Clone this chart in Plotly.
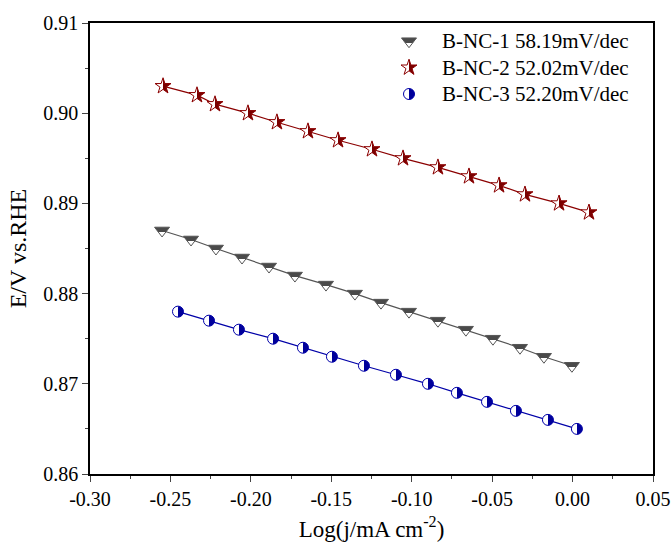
import plotly.graph_objects as go

# B-NC-1 (gray triangles)
x1 = [-0.2552, -0.2372, -0.2217, -0.2055, -0.1887, -0.1726, -0.1533, -0.1353,
      -0.1191, -0.1017, -0.0837, -0.0663, -0.0495, -0.0327, -0.0178, -0.0004]
y1 = [0.887, 0.886, 0.885, 0.884, 0.883, 0.882, 0.881, 0.880,
      0.879, 0.878, 0.877, 0.876, 0.875, 0.874, 0.873, 0.872]

# B-NC-2 (red stars)
x2 = [-0.2546, -0.2335, -0.2223, -0.2018, -0.1838, -0.1645, -0.1458, -0.1247,
      -0.1054, -0.0837, -0.0644, -0.0457, -0.0296, -0.0084, 0.0102]
y2 = [0.903, 0.902, 0.901, 0.900, 0.899, 0.898, 0.897, 0.896,
      0.895, 0.894, 0.893, 0.892, 0.891, 0.890, 0.889]

# B-NC-3 (blue circles)
x3 = [-0.2453, -0.2260, -0.2074, -0.1862, -0.1676, -0.1496, -0.1297,
      -0.1098, -0.0899, -0.0719, -0.0532, -0.0352, -0.0153, 0.0027]
y3 = [0.878, 0.877, 0.876, 0.875, 0.874, 0.873, 0.872,
      0.871, 0.870, 0.869, 0.868, 0.867, 0.866, 0.865]

names = ["B-NC-1 58.19mV/dec", "B-NC-2 52.02mV/dec", "B-NC-3 52.20mV/dec"]

# x tick values and labels (plain hyphen minus as in the original)
x_tickvals = [-0.30, -0.25, -0.20, -0.15, -0.10, -0.05, 0.00, 0.05]
x_ticktext = ["-0.30", "-0.25", "-0.20", "-0.15", "-0.10", "-0.05", "0.00", "0.05"]

FONT = "Liberation Serif, Times New Roman, serif"

series = [
    (x1, y1, names[0], "#555555",
     dict(symbol="triangle-down", size=13, color="#4a4a4a",
          gradient=dict(type="vertical", color="white"),
          line=dict(color="#555555", width=1))),
    (x2, y2, names[1], "#8b0000",
     dict(symbol="star", size=12, color="white",
          gradient=dict(type="horizontal", color="#7a0000"),
          line=dict(color="#8b0000", width=1))),
    (x3, y3, names[2], "#0000a8",
     dict(symbol="circle", size=11, color="white",
          gradient=dict(type="horizontal", color="#00009a"),
          line=dict(color="#0000a8", width=1))),
]

fig = go.Figure()
for xs, ys, nm, col, mk in series:
    fig.add_trace(go.Scatter(x=xs, y=ys, mode="lines", showlegend=False,
                             line=dict(color=col, width=1.2), hoverinfo="skip"))
for xs, ys, nm, col, mk in series:
    fig.add_trace(go.Scatter(x=xs, y=ys, mode="markers",
                             name='<span style="font-size:21px">' + nm + '</span>',
                             marker=mk))

fig.update_layout(
    width=671, height=545,
    margin=dict(l=90, r=18, t=23, b=71),
    paper_bgcolor="white", plot_bgcolor="white",
    font=dict(family=FONT, size=20, color="black"),
    showlegend=True,
    legend=dict(x=0.508, y=1.0, xanchor="left", yanchor="top",
                bgcolor="rgba(0,0,0,0)", borderwidth=0,
                font=dict(family=FONT, size=18, color="black"),
                itemwidth=56, tracegroupgap=0),
)

fig.update_xaxes(
    range=[-0.30, 0.05], tickmode="array", tickvals=x_tickvals, ticktext=x_ticktext,
    ticks="outside", ticklen=6, tickwidth=1.3,
    showline=True, linecolor="black", linewidth=1.5, mirror=True,
    showgrid=False, zeroline=False, automargin=False,
    minor=dict(ticks="outside", tick0=-0.30, dtick=0.025, ticklen=3, tickwidth=1.3, showgrid=False),
    tickfont=dict(family=FONT, size=20),
    title=dict(text="Log(j/mA cm<sup>-2</sup>)", font=dict(family=FONT, size=23), standoff=12),
)
fig.update_yaxes(
    range=[0.86, 0.91], tickmode="linear", tick0=0.86, dtick=0.01,
    tickformat=".2f", ticks="outside", ticklen=6, tickwidth=1.3,
    showline=True, linecolor="black", linewidth=1.5, mirror=True,
    showgrid=False, zeroline=False, automargin=False,
    minor=dict(ticks="outside", dtick=0.005, ticklen=3, tickwidth=1.3, showgrid=False),
    tickfont=dict(family=FONT, size=20),
    title=dict(text="E/V vs.RHE", font=dict(family=FONT, size=24), standoff=10),
)

# remove the page margin and split the two-colour marker gradients sharply
# in half so that the symbols look half-filled
post = """
document.body.style.margin = '0';
var gd = document.getElementById('{plot_id}');
function sharpen() {
  document.querySelectorAll('linearGradient').forEach(function (g) {
    var s = g.querySelectorAll('stop');
    if (s.length === 2) { s[0].setAttribute('offset', '50%'); s[1].setAttribute('offset', '50%'); }
  });
}
sharpen();
if (gd && gd.on) { gd.on('plotly_afterplot', sharpen); }
"""

fig.write_html("out.html", post_script=post, config={"displayModeBar": False})
